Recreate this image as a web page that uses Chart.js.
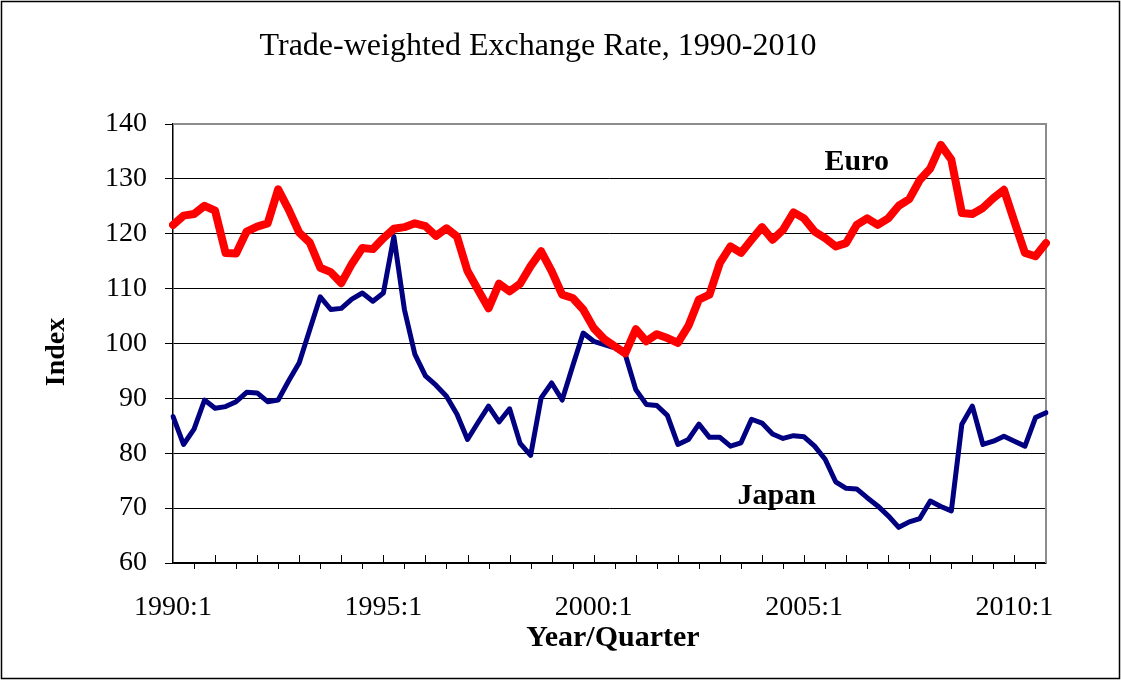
<!DOCTYPE html>
<html>
<head>
<meta charset="utf-8">
<script src="https://cdn.jsdelivr.net/npm/chart.js@4.4.1/dist/chart.umd.min.js"></script>
<style>
html, body { margin: 0; padding: 0; background: #fff; }
canvas { display: block; }
</style>
</head>
<body>
<canvas id="c1" width="1121" height="680"></canvas>
<script>
// quarterly index values, 1990:1 .. 2010:4
var firstYear = 1990;
var lastYear = 2010;
var quarters = [1, 2, 3, 4];

var euro = [121.6, 123.3, 123.6, 125.1, 124.2, 116.5, 116.4, 120.4, 121.3, 121.9,
            128.1, 124.4, 120.2, 118.4, 113.8, 113.0, 111.0, 114.5, 117.4, 117.2,
            119.2, 120.9, 121.2, 121.9, 121.4, 119.6, 121.0, 119.5, 113.2, 109.8,
            106.4, 110.9, 109.5, 110.9, 114.1, 116.8, 113.2, 108.9, 108.3, 106.2,
            102.8, 100.8, 99.5, 98.2, 102.6, 100.4, 101.7, 101.0, 100.1, 103.2,
            108.0, 108.9, 114.7, 117.7, 116.5, 118.9, 121.2, 118.9, 120.7, 123.9,
            122.8, 120.4, 119.2, 117.7, 118.3, 121.6, 122.8, 121.6, 122.8, 125.1,
            126.3, 129.8, 131.9, 136.2, 133.5, 123.8, 123.6, 124.7, 126.5, 128.0,
            122.2, 116.5, 115.9, 118.3];

var japan = [86.7, 81.6, 84.4, 89.7, 88.2, 88.5, 89.4, 91.1, 91.0, 89.4,
             89.7, 93.2, 96.5, 102.5, 108.5, 106.2, 106.4, 108.1, 109.2, 107.7,
             109.2, 119.5, 106.2, 98.0, 94.1, 92.4, 90.4, 87.1, 82.5, 85.6,
             88.6, 85.7, 88.1, 81.8, 79.6, 90.1, 92.8, 89.7, 95.9, 101.9,
             100.4, 99.8, 99.2, 98.0, 91.6, 88.9, 88.7, 86.9, 81.6, 82.5,
             85.3, 82.9, 82.9, 81.3, 81.9, 86.2, 85.5, 83.5, 82.7, 83.2,
             83.0, 81.3, 78.9, 74.8, 73.6, 73.5, 71.9, 70.4, 68.6, 66.5,
             67.5, 68.1, 71.3, 70.3, 69.5, 85.3, 88.6, 81.6, 82.2, 83.1,
             82.2, 81.3, 86.5, 87.4];

var labels = [];
for (var yr = firstYear; yr <= lastYear; yr++) {
    quarters.forEach(function(q){ labels.push(yr + ':' + q); });
}

// series name labels, placed in data units
var seriesNotes = [
    { text: 'Euro', at: 65, value: 133.1 },
    { text: 'Japan', at: 57.4, value: 72.2 }
];

var serif = "'Liberation Serif', 'Times New Roman', serif";

var decor = {
    id: 'decor',
    beforeDatasetsDraw: function(chart) {
        var ctx = chart.ctx, a = chart.chartArea, xs = chart.scales.x;
        ctx.save();
        ctx.strokeStyle = '#8c8c8c';
        ctx.lineWidth = 2;
        ctx.beginPath();
        ctx.moveTo(a.left, a.top);
        ctx.lineTo(a.right, a.top);
        ctx.lineTo(a.right, a.bottom);
        ctx.stroke();
        ctx.strokeStyle = '#000';
        ctx.lineWidth = 1;
        for (var i = 2; i < labels.length; i += 2) {
            var px = Math.round(xs.getPixelForValue(i)) + 0.5;
            ctx.beginPath();
            if (i % 4 === 0) { ctx.moveTo(px, a.bottom); ctx.lineTo(px, a.bottom - 8); }
            else { ctx.moveTo(px, a.bottom); ctx.lineTo(px, a.bottom + 6); }
            ctx.stroke();
        }
        ctx.restore();
    },
    afterDraw: function(chart) {
        var ctx = chart.ctx, xs = chart.scales.x, ys = chart.scales.y;
        ctx.save();
        ctx.strokeStyle = '#000';
        ctx.lineWidth = 1.5;
        ctx.strokeRect(1.5, 1.5, chart.width - 3, chart.height - 3);

        ctx.fillStyle = '#000';
        ctx.textAlign = 'center';
        ctx.textBaseline = 'middle';
        ctx.font = '32px ' + serif;
        ctx.fillText('Trade-weighted Exchange Rate, 1990-2010', 538, 47);

        ctx.font = 'bold 30px ' + serif;
        ctx.fillText('Year/Quarter', 613, 638);
        seriesNotes.forEach(function(n){
            ctx.fillText(n.text, xs.getPixelForValue(n.at), ys.getPixelForValue(n.value));
        });

        ctx.font = 'bold 28px ' + serif;
        ctx.translate(57, 352);
        ctx.rotate(-Math.PI / 2);
        ctx.fillText('Index', 0, 0);
        ctx.restore();
    }
};

var ctx = document.getElementById('c1').getContext('2d');
var chart = new Chart(ctx, {
    type: 'line',
    data: {
        labels: labels,
        datasets: [
            {
                label: 'Euro',
                data: euro,
                borderColor: '#ff0000',
                borderWidth: 8,
                pointRadius: 0,
                borderJoinStyle: 'round',
                borderCapStyle: 'round',
                fill: false,
                tension: 0,
                order: 1
            },
            {
                label: 'Japan',
                data: japan,
                borderColor: '#000080',
                borderWidth: 5,
                pointRadius: 0,
                borderJoinStyle: 'round',
                borderCapStyle: 'round',
                fill: false,
                tension: 0,
                order: 2
            }
        ]
    },
    options: {
        responsive: false,
        devicePixelRatio: 1,
        animation: false,
        layout: { padding: { left: 0, top: 124, right: 75, bottom: 0 } },
        plugins: {
            legend: { display: false },
            title: { display: false },
            tooltip: { enabled: false }
        },
        scales: {
            x: {
                type: 'category',
                offset: false,
                grid: { display: false, drawTicks: false },
                border: { display: true, color: '#000', width: 1.5 },
                ticks: {
                    autoSkip: false,
                    maxRotation: 0,
                    padding: 28,
                    color: '#000',
                    font: { family: serif, size: 28 },
                    callback: function(v, i) { return i % 20 === 0 ? labels[i] : ''; }
                },
                afterFit: function(s) { s.height = 117; }
            },
            y: {
                min: 60,
                max: 140,
                ticks: {
                    stepSize: 10,
                    padding: 18,
                    color: '#000',
                    font: { family: serif, size: 28 }
                },
                grid: {
                    color: function(c) { return c.tick && c.tick.value === 140 ? 'rgba(0,0,0,0)' : '#000'; },
                    tickColor: '#000',
                    tickLength: 8,
                    lineWidth: 1
                },
                border: { display: true, color: '#000', width: 1.5 },
                afterFit: function(s) { s.width = 173; }
            }
        }
    },
    plugins: [decor]
});
</script>
</body>
</html>
